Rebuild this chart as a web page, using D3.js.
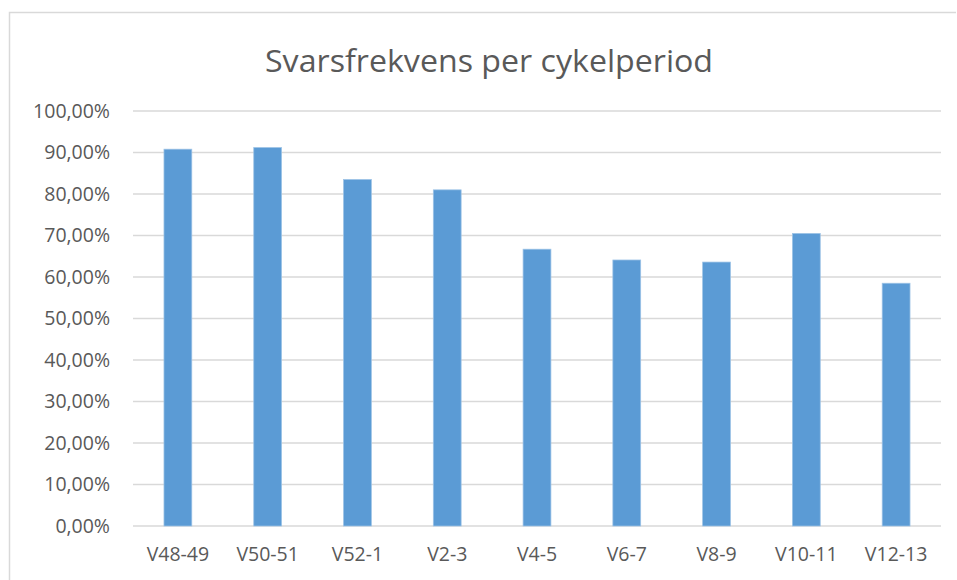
<!DOCTYPE html>
<html>
<head>
<meta charset="utf-8">
<script src="https://cdn.jsdelivr.net/npm/d3@7"></script>
<style>
  body { margin: 0; background: #fff; }
  text { font-family: "Open Sans", "Liberation Sans", sans-serif; fill: #595959; }
</style>
</head>
<body>
<svg id="chart"></svg>
<script>
// data
const periods = ["V48-49", "V50-51", "V52-1", "V2-3", "V4-5", "V6-7", "V8-9", "V10-11", "V12-13"];
const responseRates = [90.8, 91.2, 83.5, 81.0, 66.7, 64.1, 63.6, 70.5, 58.5];
const yTicks = [0, 10, 20, 30, 40, 50, 60, 70, 80, 90, 100];

const width = 957, height = 580;
const margin = {top: 111, right: 16, bottom: 54, left: 133};
const innerW = width - margin.left - margin.right;
const innerH = height - margin.top - margin.bottom;

const svg = d3.select("#chart")
    .attr("width", width)
    .attr("height", height);

// chart area outline (only left and top edges fall inside the window)
svg.append("path")
    .attr("d", `M9.5,${height} V12.5 H${width - 1}`)
    .attr("fill", "none")
    .attr("stroke", "#d9d9d9")
    .attr("stroke-width", 1.5);

// title
svg.append("text")
    .attr("x", 489)
    .attr("y", 72)
    .attr("text-anchor", "middle")
    .attr("textLength", 448)
    .attr("lengthAdjust", "spacingAndGlyphs")
    .style("font-size", "31px")
    .text("Svarsfrekvens per cykelperiod");

const chart = svg.append("g")
    .attr("transform", `translate(${margin.left}, ${margin.top})`);

const x = d3.scaleBand()
    .domain(periods)
    .range([0, innerW])
    .paddingInner(0.69)
    .paddingOuter(0.345);

const y = d3.scaleLinear()
    .domain([0, 100])
    .range([innerH, 0]);

// gridlines
chart.append("g")
    .selectAll("line")
    .data(yTicks)
    .join("line")
        .attr("x1", 0)
        .attr("x2", innerW)
        .attr("y1", d => y(d))
        .attr("y2", d => y(d))
        .attr("stroke", "#d9d9d9")
        .attr("stroke-width", 1.5);

// y axis labels
const yAxis = d3.axisLeft(y)
    .tickValues(yTicks)
    .tickSize(0)
    .tickPadding(23)
    .tickFormat(d => d3.format(".2f")(d).replace(".", ",") + "%");

chart.append("g")
    .call(yAxis)
    .call(g => g.select(".domain").remove())
    .selectAll("text")
        .style("font-size", "19.5px")
        .style("font-family", "\"Open Sans\", sans-serif")
        .attr("fill", "#595959");

// bars
chart.selectAll("rect.bar")
    .data(responseRates)
    .join("rect")
        .attr("class", "bar")
        .attr("x", (d, i) => x(periods[i]))
        .attr("y", d => y(d))
        .attr("width", x.bandwidth())
        .attr("height", d => innerH - y(d))
        .attr("fill", "#5b9bd5")
        .attr("stroke", "#9dc3e6")
        .attr("stroke-width", 0.75);

// x axis labels
const xAxis = d3.axisBottom(x)
    .tickSize(0)
    .tickPadding(21);

chart.append("g")
    .attr("transform", `translate(0, ${innerH})`)
    .call(xAxis)
    .call(g => g.select(".domain").remove())
    .selectAll("text")
        .style("font-size", "19.5px")
        .style("font-family", "\"Open Sans\", sans-serif")
        .attr("fill", "#595959");
</script>
</body>
</html>
